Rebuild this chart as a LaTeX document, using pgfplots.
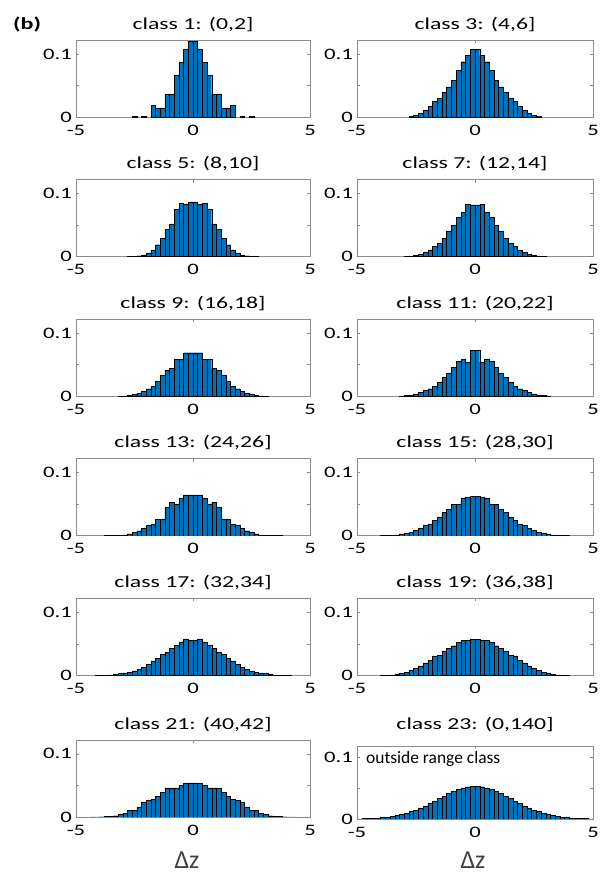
\documentclass[border=0pt]{standalone}
\usepackage{fontspec}
\setmainfont{Carlito}
\newfontfamily\stretched{Carlito}[FakeStretch=1.42]
\usepackage{pgfplots}
\pgfplotsset{compat=1.18}
\definecolor{barblue}{RGB}{0,114,189}

\pgfplotsset{
  hist/.style={
    scale only axis, width=234bp, height=77bp,
    anchor=south west,
    xmin=-5, xmax=5, ymin=0, ymax=0.122,
    xtick={-5,0,5}, xticklabels={-5,0,5},
    ytick={0,0.05,0.1}, yticklabels={0,,0.1},
    tick align=inside, major tick length=3bp,
    axis line style={draw=black!45, line width=0.6bp},
    every tick/.style={draw=black!45, line width=0.6bp},
    tick label style={font=\stretched\fontsize{16}{16}\selectfont, text=black},
    xticklabel style={anchor=base, yshift=-18bp},
    yticklabel style={anchor=east, inner sep=0pt, xshift=-4bp},
    title style={font=\stretched\fontsize{16.8}{18}\selectfont, at={(0.5,1)}, anchor=base, yshift=5bp},
    /pgf/number format/assume math mode=true,
  },
  bars/.style={ybar, bar width=0.2, fill=barblue, draw=black, line width=0.4bp},
}

\begin{document}
\begin{tikzpicture}
\path[use as bounding box] (0,0) rectangle (603bp,875bp);

% row 1
\begin{axis}[hist, at={(76bp,757.7bp)}, title={class 1: (0,2]}]
\addplot[bars] coordinates {(-2.5,0.002) (-2.1,0.002) (-1.7,0.019) (-1.5,0.015) (-1.3,0.015) (-1.1,0.037) (-0.9,0.036) (-0.7,0.067) (-0.5,0.087) (-0.3,0.108) (-0.1,0.120) (0.1,0.120) (0.3,0.108) (0.5,0.087) (0.7,0.067) (0.9,0.036) (1.1,0.037) (1.3,0.015) (1.5,0.015) (1.7,0.019) (2.1,0.002) (2.5,0.002)};
\end{axis}
\begin{axis}[hist, width=236bp, at={(357bp,757.7bp)}, title={class 3: (4,6]}]
\addplot[bars] coordinates {(-2.7,0.0012) (-2.5,0.003) (-2.3,0.006) (-2.1,0.011) (-1.9,0.017) (-1.7,0.025) (-1.5,0.030) (-1.3,0.040) (-1.1,0.048) (-0.9,0.059) (-0.7,0.074) (-0.5,0.088) (-0.3,0.098) (-0.1,0.108) (0.1,0.108) (0.3,0.098) (0.5,0.088) (0.7,0.074) (0.9,0.059) (1.1,0.048) (1.3,0.040) (1.5,0.030) (1.7,0.025) (1.9,0.017) (2.1,0.011) (2.3,0.006) (2.5,0.003) (2.7,0.0012)};
\end{axis}

% row 2
\begin{axis}[hist, at={(76bp,618.3bp)}, title={class 5: (8,10]}]
\addplot[bars] coordinates {(-2.7,0.0003) (-2.5,0.0007) (-2.3,0.0015) (-2.1,0.003) (-1.9,0.006) (-1.7,0.011) (-1.5,0.019) (-1.3,0.029) (-1.1,0.043) (-0.9,0.052) (-0.7,0.075) (-0.5,0.085) (-0.3,0.083) (-0.1,0.087) (0.1,0.087) (0.3,0.083) (0.5,0.085) (0.7,0.075) (0.9,0.052) (1.1,0.043) (1.3,0.029) (1.5,0.019) (1.7,0.011) (1.9,0.006) (2.1,0.003) (2.3,0.0015) (2.5,0.0007) (2.7,0.0003)};
\end{axis}
\begin{axis}[hist, width=236bp, at={(357bp,618.3bp)}, title={class 7: (12,14]}]
\addplot[bars] coordinates {(-2.9,0.0005) (-2.7,0.001) (-2.5,0.002) (-2.3,0.004) (-2.1,0.007) (-1.9,0.011) (-1.7,0.016) (-1.5,0.021) (-1.3,0.029) (-1.1,0.041) (-0.9,0.050) (-0.7,0.062) (-0.5,0.070) (-0.3,0.083) (-0.1,0.082) (0.1,0.082) (0.3,0.083) (0.5,0.070) (0.7,0.062) (0.9,0.050) (1.1,0.041) (1.3,0.029) (1.5,0.021) (1.7,0.016) (1.9,0.011) (2.1,0.007) (2.3,0.004) (2.5,0.002) (2.7,0.001) (2.9,0.0005)};
\end{axis}

% row 3
\begin{axis}[hist, at={(76bp,478.7bp)}, title={class 9: (16,18]}]
\addplot[bars] coordinates {(-3.1,0.0003) (-2.9,0.0007) (-2.7,0.0015) (-2.5,0.003) (-2.3,0.005) (-2.1,0.008) (-1.9,0.012) (-1.7,0.016) (-1.5,0.024) (-1.3,0.033) (-1.1,0.041) (-0.9,0.044) (-0.7,0.058) (-0.5,0.059) (-0.3,0.069) (-0.1,0.069) (0.1,0.069) (0.3,0.069) (0.5,0.059) (0.7,0.058) (0.9,0.044) (1.1,0.041) (1.3,0.033) (1.5,0.024) (1.7,0.016) (1.9,0.012) (2.1,0.008) (2.3,0.005) (2.5,0.003) (2.7,0.0015) (2.9,0.0007) (3.1,0.0003)};
\end{axis}
\begin{axis}[hist, width=236bp, at={(357bp,478.7bp)}, title={class 11: (20,22]}]
\addplot[bars] coordinates {(-3.1,0.0005) (-2.9,0.001) (-2.7,0.002) (-2.5,0.004) (-2.3,0.006) (-2.1,0.009) (-1.9,0.012) (-1.7,0.016) (-1.5,0.022) (-1.3,0.030) (-1.1,0.037) (-0.9,0.046) (-0.7,0.055) (-0.5,0.058) (-0.3,0.054) (-0.1,0.073) (0.1,0.073) (0.3,0.054) (0.5,0.058) (0.7,0.055) (0.9,0.046) (1.1,0.037) (1.3,0.030) (1.5,0.022) (1.7,0.016) (1.9,0.012) (2.1,0.009) (2.3,0.006) (2.5,0.004) (2.7,0.002) (2.9,0.001) (3.1,0.0005)};
\end{axis}

% row 4
\begin{axis}[hist, at={(76bp,339.2bp)}, title={class 13: (24,26]}]
\addplot[bars] coordinates {(-3.7,0.0002) (-3.5,0.0003) (-3.3,0.0005) (-3.1,0.001) (-2.9,0.0015) (-2.7,0.003) (-2.5,0.005) (-2.3,0.008) (-2.1,0.012) (-1.9,0.017) (-1.7,0.018) (-1.5,0.026) (-1.3,0.026) (-1.1,0.045) (-0.9,0.053) (-0.7,0.050) (-0.5,0.060) (-0.3,0.065) (-0.1,0.065) (0.1,0.065) (0.3,0.065) (0.5,0.060) (0.7,0.050) (0.9,0.053) (1.1,0.045) (1.3,0.026) (1.5,0.026) (1.7,0.018) (1.9,0.017) (2.1,0.012) (2.3,0.008) (2.5,0.005) (2.7,0.003) (2.9,0.0015) (3.1,0.001) (3.3,0.0005) (3.5,0.0003) (3.7,0.0002)};
\end{axis}
\begin{axis}[hist, width=236bp, at={(357bp,339.2bp)}, title={class 15: (28,30]}]
\addplot[bars] coordinates {(-3.9,0.0003) (-3.7,0.0005) (-3.5,0.001) (-3.3,0.0015) (-3.1,0.003) (-2.9,0.004) (-2.7,0.006) (-2.5,0.009) (-2.3,0.012) (-2.1,0.017) (-1.9,0.019) (-1.7,0.025) (-1.5,0.030) (-1.3,0.037) (-1.1,0.042) (-0.9,0.050) (-0.7,0.050) (-0.5,0.060) (-0.3,0.061) (-0.1,0.063) (0.1,0.063) (0.3,0.061) (0.5,0.060) (0.7,0.050) (0.9,0.050) (1.1,0.042) (1.3,0.037) (1.5,0.030) (1.7,0.025) (1.9,0.019) (2.1,0.017) (2.3,0.012) (2.5,0.009) (2.7,0.006) (2.9,0.004) (3.1,0.003) (3.3,0.0015) (3.5,0.001) (3.7,0.0005) (3.9,0.0003)};
\end{axis}

% row 5
\begin{axis}[hist, at={(76bp,199.6bp)}, title={class 17: (32,34]}]
\addplot[bars] coordinates {(-4.1,0.0002) (-3.9,0.0003) (-3.7,0.0006) (-3.5,0.001) (-3.3,0.0015) (-3.1,0.003) (-2.9,0.004) (-2.7,0.005) (-2.5,0.007) (-2.3,0.010) (-2.1,0.013) (-1.9,0.018) (-1.7,0.023) (-1.5,0.027) (-1.3,0.033) (-1.1,0.036) (-0.9,0.043) (-0.7,0.048) (-0.5,0.053) (-0.3,0.058) (-0.1,0.056) (0.1,0.056) (0.3,0.058) (0.5,0.053) (0.7,0.048) (0.9,0.043) (1.1,0.036) (1.3,0.033) (1.5,0.027) (1.7,0.023) (1.9,0.018) (2.1,0.013) (2.3,0.010) (2.5,0.007) (2.7,0.005) (2.9,0.004) (3.1,0.003) (3.3,0.0015) (3.5,0.001) (3.7,0.0006) (3.9,0.0003) (4.1,0.0002)};
\end{axis}
\begin{axis}[hist, width=236bp, at={(357bp,199.6bp)}, title={class 19: (36,38]}]
\addplot[bars] coordinates {(-3.9,0.0003) (-3.7,0.0005) (-3.5,0.001) (-3.3,0.002) (-3.1,0.003) (-2.9,0.005) (-2.7,0.008) (-2.5,0.011) (-2.3,0.015) (-2.1,0.020) (-1.9,0.024) (-1.7,0.031) (-1.5,0.032) (-1.3,0.039) (-1.1,0.043) (-0.9,0.047) (-0.7,0.052) (-0.5,0.055) (-0.3,0.056) (-0.1,0.057) (0.1,0.057) (0.3,0.056) (0.5,0.055) (0.7,0.052) (0.9,0.047) (1.1,0.043) (1.3,0.039) (1.5,0.032) (1.7,0.031) (1.9,0.024) (2.1,0.020) (2.3,0.015) (2.5,0.011) (2.7,0.008) (2.9,0.005) (3.1,0.003) (3.3,0.002) (3.5,0.001) (3.7,0.0005) (3.9,0.0003)};
\end{axis}

% row 6
\begin{axis}[hist, at={(76bp,58bp)}, title={class 21: (40,42]}]
\addplot[bars] coordinates {(-4.3,0.0001) (-4.1,0.0002) (-3.9,0.0004) (-3.7,0.0007) (-3.5,0.0012) (-3.3,0.002) (-3.1,0.004) (-2.9,0.006) (-2.7,0.010) (-2.5,0.011) (-2.3,0.016) (-2.1,0.024) (-1.9,0.026) (-1.7,0.028) (-1.5,0.033) (-1.3,0.039) (-1.1,0.046) (-0.9,0.046) (-0.7,0.046) (-0.5,0.050) (-0.3,0.053) (-0.1,0.054) (0.1,0.054) (0.3,0.053) (0.5,0.050) (0.7,0.046) (0.9,0.046) (1.1,0.046) (1.3,0.039) (1.5,0.033) (1.7,0.028) (1.9,0.026) (2.1,0.024) (2.3,0.016) (2.5,0.011) (2.7,0.010) (2.9,0.006) (3.1,0.004) (3.3,0.002) (3.5,0.0012) (3.7,0.0007) (3.9,0.0004) (4.1,0.0002) (4.3,0.0001)};
\end{axis}
% this axis ends a little lower on the scale, so its title is lifted to line up with its neighbour
\begin{axis}[hist, width=236bp, height=73bp, ymax=0.1177, at={(357bp,56bp)}, title={class 23: (0,140]}, title style={yshift=6bp}]
\addplot[bars] coordinates {(-4.9,0.0003) (-4.7,0.0005) (-4.5,0.0008) (-4.3,0.0011) (-4.1,0.0016) (-3.9,0.0022) (-3.7,0.003) (-3.5,0.004) (-3.3,0.0055) (-3.1,0.007) (-2.9,0.009) (-2.7,0.012) (-2.5,0.014) (-2.3,0.018) (-2.1,0.021) (-1.9,0.025) (-1.7,0.029) (-1.5,0.033) (-1.3,0.037) (-1.1,0.041) (-0.9,0.045) (-0.7,0.048) (-0.5,0.050) (-0.3,0.052) (-0.1,0.053) (0.1,0.053) (0.3,0.052) (0.5,0.050) (0.7,0.048) (0.9,0.045) (1.1,0.041) (1.3,0.037) (1.5,0.033) (1.7,0.029) (1.9,0.025) (2.1,0.021) (2.3,0.018) (2.5,0.014) (2.7,0.012) (2.9,0.009) (3.1,0.007) (3.3,0.0055) (3.5,0.004) (3.7,0.003) (3.9,0.0022) (4.1,0.0016) (4.3,0.0011) (4.5,0.0008) (4.7,0.0005) (4.9,0.0003)};
\end{axis}

% panel letter, annotation and x-axis labels
\node[anchor=base west, inner sep=0pt, font=\stretched\bfseries\fontsize{17}{18}\selectfont] at (13bp,845bp) {(b)};
\node[anchor=base west, inner sep=0pt, font=\fontsize{17.5}{18}\selectfont] at (366bp,111bp) {outside range class};
\node[anchor=base, inner sep=0pt, font=\fontsize{26}{28}\selectfont, text=black!75] at (187bp,7bp) {Δz};
\node[anchor=base, inner sep=0pt, font=\fontsize{26}{28}\selectfont, text=black!75] at (473bp,7bp) {Δz};
\end{tikzpicture}
\end{document}
